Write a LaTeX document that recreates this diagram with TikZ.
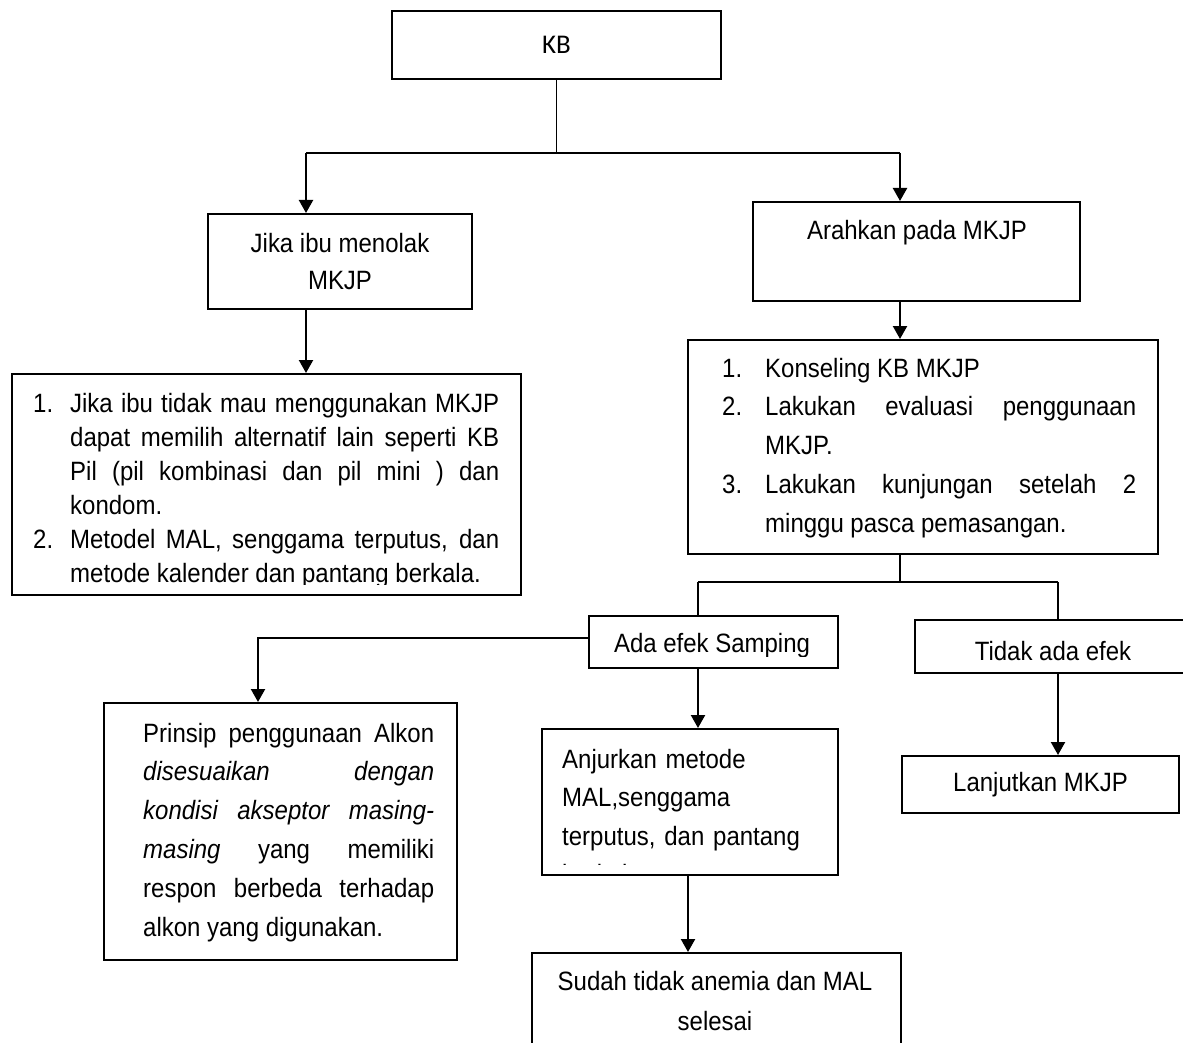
\documentclass[tikz,border=0pt]{standalone}
\usepackage{fontspec}
\setmainfont{Liberation Sans}[FakeStretch=0.905]
\newfontfamily\kbfont{Carlito}
\usetikzlibrary{arrows.meta, positioning}

\hyphenpenalty=10000
\tolerance=9999

% one numbered paragraph with hanging indent
\newcommand{\numpar}[3]{\hangindent=#1\hangafter=1\noindent\makebox[#1][l]{#2}#3\par}

\tikzset{
  box/.style={draw, line width=2pt, inner sep=0pt, anchor=north west},
  link/.style={line width=2pt},
  arrow/.style={line width=2.2pt, -{Triangle[length=13pt, width=14pt]}},
  plain/.style={inner sep=0pt}
}

\begin{document}
\begin{tikzpicture}[x=1pt, y=-1pt, every node/.style={font=\fontsize{26.5}{34}\selectfont}]
    \useasboundingbox (0,0) rectangle (1183,1043);
    \fill[white] (0,0) rectangle (1183,1043);
    \clip (0,0) rectangle (1183,1043);

    % boxes
    \node[box, minimum width=329, minimum height=68, font=\kbfont\fontsize{27}{32}\selectfont] (kb) at (391,10) {KB};
    \node[box, minimum width=264, minimum height=95, align=center, font=\fontsize{26.5}{37}\selectfont] (jika) at (207,213) {Jika ibu menolak\\MKJP};
    \node[box, minimum width=327, minimum height=99] (arah) at (752,201) {};
    \node[box, minimum width=509, minimum height=221] (leftlist) at (11,373) {};
    \node[box, minimum width=470, minimum height=214] (rightlist) at (687,339) {};
    \node[box, minimum width=249, minimum height=52] (ada) at (588,615) {};
    \node[box, minimum width=286, minimum height=53] (tidak) at (914,619) {};
    \node[box, minimum width=353, minimum height=257] (prinsip) at (103,702) {};
    \node[box, minimum width=296, minimum height=146] (anjur) at (541,728) {};
    \node[box, minimum width=277, minimum height=57] (lanjut) at (901,755) {Lanjutkan MKJP};
    \node[box, minimum width=369, minimum height=108] (sudah) at (531,952) {};

    % texts
    \node[anchor=base] (arahtext) at (917,240) {Arahkan pada MKJP};
    \node[anchor=base] (tidaktext) at (1053,660) {Tidak ada efek};
    \node[anchor=base, align=center, font=\fontsize{26.5}{40}\selectfont] (sudahtext) at (715,1030) {Sudah tidak anemia dan MAL\\selesai};

    \begin{scope}
      \clip (11,373) rectangle (520,584);
      \node[plain, anchor=base west, text width=466, align=justify] (lefttext) at (33,412) {%
        \numpar{37pt}{1.}{Jika ibu tidak mau menggunakan MKJP\linebreak dapat memilih alternatif lain seperti KB\linebreak Pil (pil kombinasi dan pil mini ) dan\linebreak kondom.}%
        \numpar{37pt}{2.}{Metodel MAL, senggama terputus, dan\linebreak metode kalender dan pantang berkala.}};
    \end{scope}

    \node[plain, anchor=base west, text width=414, align=justify, font=\fontsize{26.5}{38.75}\selectfont] (righttext) at (722,377) {%
      \numpar{43pt}{1.}{Konseling KB MKJP}%
      \numpar{43pt}{2.}{Lakukan evaluasi penggunaan\linebreak MKJP.}%
      \numpar{43pt}{3.}{Lakukan kunjungan setelah 2\linebreak minggu pasca pemasangan.}};

    \begin{scope}
      \clip (588,615) rectangle (837,656);
      \node[anchor=base] (adatext) at (712,652) {Ada efek Samping};
    \end{scope}

    \node[plain, anchor=base west, text width=291, align=justify, font=\fontsize{26.5}{38.8}\selectfont] (prinsiptext) at (143,742) {%
      Prinsip penggunaan Alkon\linebreak
      \textit{disesuaikan dengan}\linebreak
      \textit{kondisi akseptor masing-}\linebreak\textit{masing} yang memiliki\linebreak
      respon berbeda terhadap\linebreak
      alkon yang digunakan.};

    \begin{scope}
      \clip (541,728) rectangle (837,864);
      \node[plain, anchor=base west, text width=270, align=left, font=\fontsize{26.5}{38.5}\selectfont] (anjurtext) at (562,768) {Anjurkan metode\\MAL,senggama\\terputus, dan pantang\\berkala.};
    \end{scope}

    % connectors
    \coordinate (busL) at (306,153);
    \coordinate (busR) at (900,153);
    \coordinate (bus2L) at (698,582);
    \coordinate (bus2R) at (1058,582);
    \coordinate (prinsipx) at (258,0);
    \coordinate (anjurx) at (688,0);

    \draw[line width=1.5pt] (kb.south) -- (kb.south |- busL);
    \draw[link] (busL) -- (busR);
    \draw[arrow] (busL) -- (busL |- jika.north);
    \draw[arrow] (busR) -- (busR |- arah.north);
    \draw[arrow] (busL |- jika.south) -- (busL |- leftlist.north);
    \draw[arrow] (busR |- arah.south) -- (busR |- rightlist.north);

    \draw[link] (busR |- rightlist.south) -- (busR |- bus2L);
    \draw[link] (bus2L) -- (bus2R);
    \draw[link] (bus2L) -- (bus2L |- ada.north);
    \draw[link] (bus2R) -- (bus2R |- tidak.north);

    \draw[arrow] ([yshift=4pt]ada.west) -| (prinsipx |- prinsip.north);
    \draw[arrow] (bus2L |- ada.south) -- (bus2L |- anjur.north);
    \draw[arrow] (anjurx |- anjur.south) -- (anjurx |- sudah.north);
    \draw[arrow] (bus2R |- tidak.south) -- (bus2R |- lanjut.north);
\end{tikzpicture}
\end{document}
